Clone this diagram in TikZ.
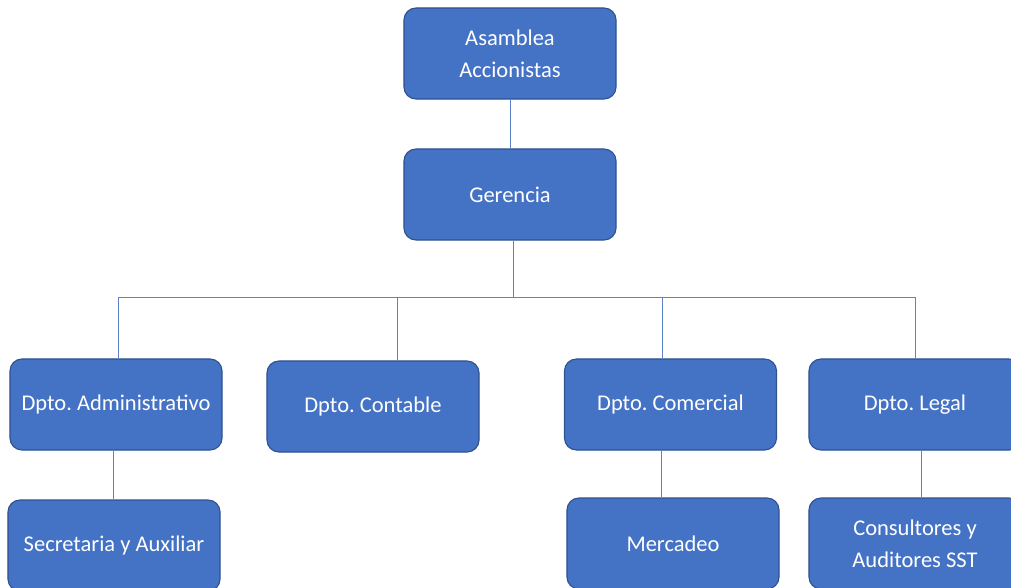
\documentclass[tikz,border=0pt]{standalone}
\usepackage{fontspec}
\setmainfont{Carlito}
\usepackage{xcolor}
\usepackage{tikz}
\definecolor{boxblue}{HTML}{4472C4}
\definecolor{boxedge}{HTML}{2F528F}
\definecolor{linkblue}{HTML}{5B84CC}
\frenchspacing

\begin{document}
\begin{tikzpicture}[x=0.025cm,y=-0.025cm,
  unit/.style={draw=boxedge,fill=boxblue,line width=0.8pt,rounded corners=0.3cm,
    minimum width=5.3cm,minimum height=2.275cm,text=white,align=center,
    font=\fontsize{16}{22.5}\selectfont},
  link/.style={draw=linkblue,line width=0.6pt}]
  \clip (0,0) rectangle (1011,587);
  \node[unit] (asam) at (510,53.5) {Asamblea\\Accionistas};
  \node[unit] (ger) at (510,194.5) {Gerencia};
  \node[unit] (adm) at (116,404.5) {Dpto. Administrativo};
  \node[unit] (con) at (373,406.5) {Dpto. Contable};
  \node[unit] (com) at (670.5,404.5) {Dpto. Comercial};
  \node[unit] (leg) at (915,404.5) {Dpto. Legal};
  \node[unit] (sec) at (114,545.5) {Secretaria y Auxiliar};
  \node[unit] (mer) at (673,543.5) {Mercadeo};
  \node[unit] (sst) at (915,543.5) {Consultores y\\Auditores SST};
  % bus below Gerencia
  \coordinate (bus) at (513,297);
  \draw[link] (asam) -- (ger);
  \draw[link] ([xshift=3*0.025cm]ger.south) -- (bus);
  \draw[link] (bus) -| ([xshift=2*0.025cm]adm.north);
  \draw[link] (bus) -| ([xshift=24*0.025cm]con.north);
  \draw[link] (bus) -| ([xshift=-8.5*0.025cm]com.north);
  \draw[link] (bus) -| (leg.north);
  \draw[link] ([xshift=-3*0.025cm]adm.south) -- ([xshift=-1*0.025cm]sec.north);
  \draw[link] ([xshift=-9.5*0.025cm]com.south) -- ([xshift=-12*0.025cm]mer.north);
  \draw[link] ([xshift=6*0.025cm]leg.south) -- ([xshift=6*0.025cm]sst.north);
\end{tikzpicture}
\end{document}
